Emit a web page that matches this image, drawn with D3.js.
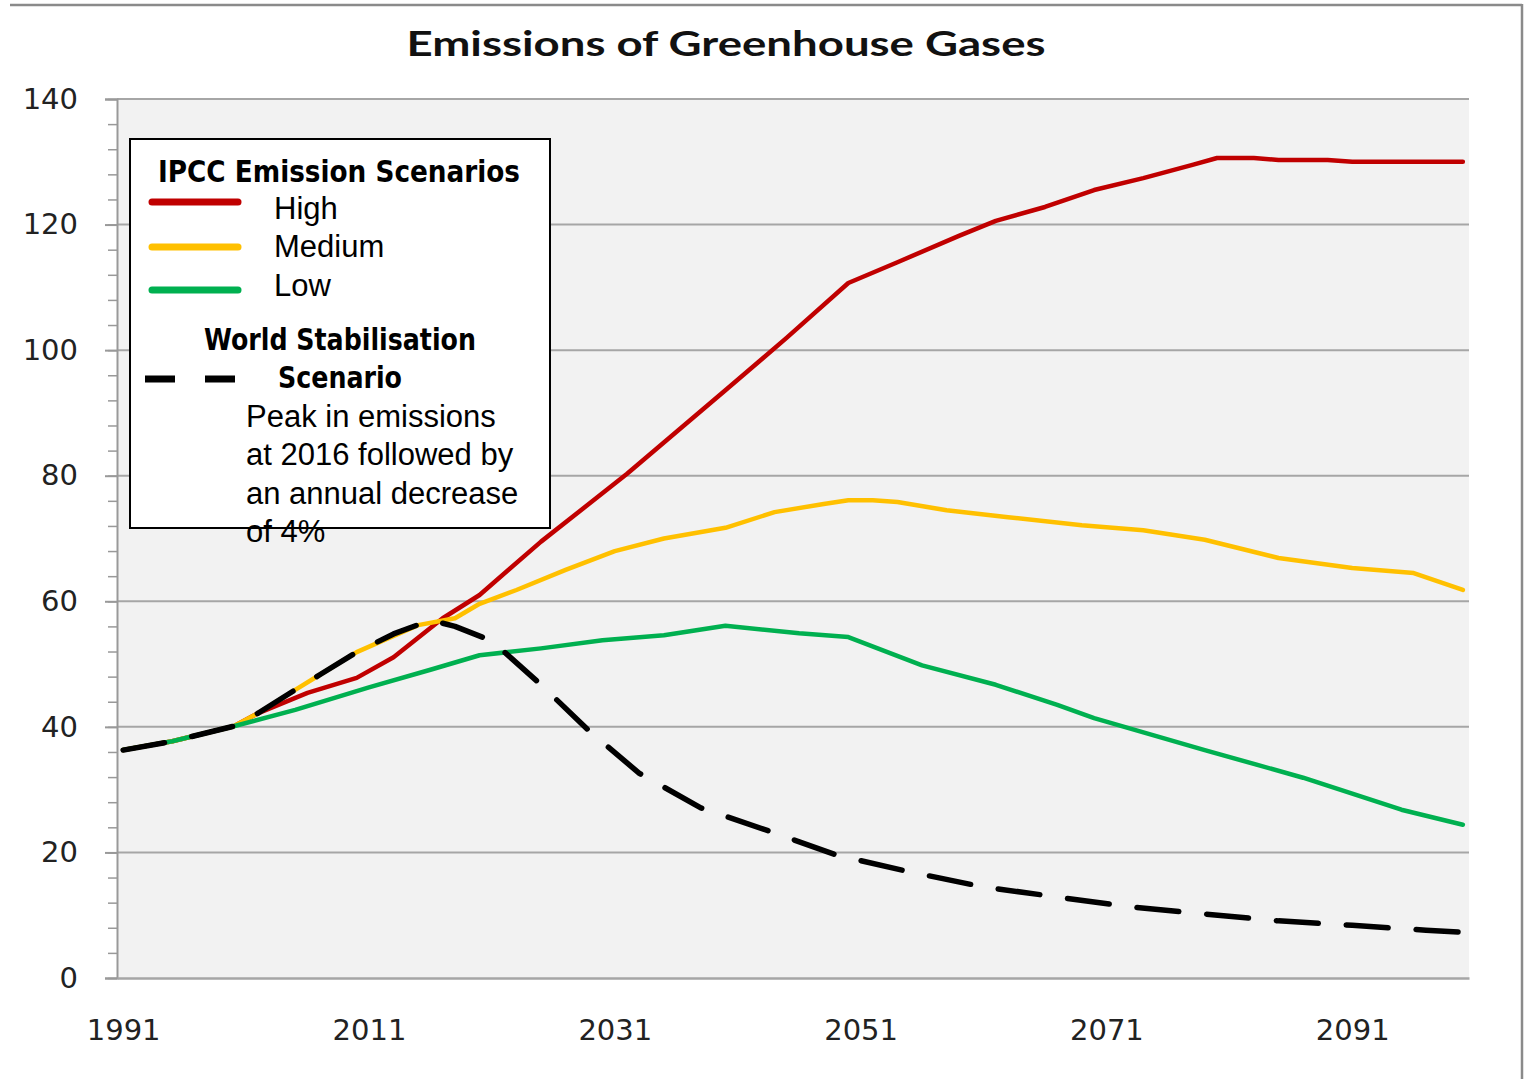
<!DOCTYPE html>
<html>
<head>
<meta charset="utf-8">
<script src="https://cdn.jsdelivr.net/npm/d3@7"></script>
<style>
  html, body { margin: 0; padding: 0; background: #fff; }
  svg { display: block; }
</style>
</head>
<body>
<div id="chart"></div>
<script>
// Emission values, [year, Gt] pairs
const high = [
  [1991, 36.3], [1995, 37.7], [2000, 40.1], [2002, 42.2], [2006, 45.4], [2010, 47.8],
  [2013, 51.1], [2017, 57.3], [2020, 61.0], [2025, 69.5], [2032, 80.3], [2040, 93.6],
  [2045, 102.0], [2050, 110.7], [2054, 114.0], [2059, 118.2], [2062, 120.6], [2066, 122.8],
  [2070, 125.5], [2074, 127.4], [2078, 129.5], [2080, 130.6], [2083, 130.6], [2085, 130.3],
  [2089, 130.3], [2091, 130.0], [2100, 130.0]
];
const medium = [
  [1991, 36.3], [1995, 37.7], [2000, 40.1], [2002, 42.2], [2005, 45.9], [2007, 48.3],
  [2010, 51.9], [2015, 56.2], [2018, 57.3], [2020, 59.6], [2023, 61.8], [2027, 65.0],
  [2031, 68.0], [2035, 70.0], [2040, 71.7], [2044, 74.2], [2048, 75.5], [2050, 76.1],
  [2052, 76.1], [2054, 75.8], [2058, 74.5], [2063, 73.4], [2069, 72.1], [2074, 71.3],
  [2079, 69.8], [2085, 66.9], [2091, 65.3], [2096, 64.5], [2100, 61.8]
];
const low = [
  [1991, 36.3], [1995, 37.7], [2000, 40.1], [2005, 42.7], [2011, 46.3], [2016, 49.1],
  [2020, 51.4], [2025, 52.5], [2030, 53.8], [2035, 54.6], [2040, 56.1], [2046, 54.9],
  [2050, 54.3], [2056, 49.8], [2062, 46.7], [2067, 43.5], [2070, 41.4], [2079, 36.3],
  [2087, 31.9], [2095, 26.8], [2100, 24.4]
];
const stabilisation = [
  [1991, 36.3], [1995, 37.7], [2000, 40.1], [2002, 42.2], [2005, 45.9], [2007, 48.3],
  [2010, 51.9], [2013, 54.8], [2016, 57.0], [2018, 56.0], [2021, 53.7], [2025, 46.7],
  [2029, 39.2], [2033, 32.6], [2038, 27.1], [2044, 23.1], [2049, 19.6], [2055, 16.9],
  [2061, 14.5], [2067, 12.9], [2073, 11.3], [2079, 10.2], [2085, 9.1], [2091, 8.4],
  [2097, 7.6], [2100, 7.3]
];
const xTickYears = [1991, 2011, 2031, 2051, 2071, 2091];
const yTicks = [0, 20, 40, 60, 80, 100, 120, 140];
const yMinorTicks = d3.range(0, 141, 4);

const seriesList = [
  { name: 'High', data: high, color: '#c00000' },
  { name: 'Medium', data: medium, color: '#ffc000' },
  { name: 'Low', data: low, color: '#00b050' },
  { name: 'Stabilisation', data: stabilisation, color: '#000000', dashed: true }
];

const W = 1526, H = 1079;
const plot = { left: 117, right: 1469, top: 99, bottom: 978 };

const svg = d3.select('#chart').append('svg')
  .attr('width', W)
  .attr('height', H);

// outer chart frame (top + right edges visible)
svg.append('line')
  .attr('x1', 10).attr('x2', 1522).attr('y1', 5).attr('y2', 5)
  .attr('stroke', '#8a8a8a').attr('stroke-width', 2.5);
svg.append('line')
  .attr('x1', 1522).attr('x2', 1522).attr('y1', 4).attr('y2', H)
  .attr('stroke', '#8a8a8a').attr('stroke-width', 2.5);

// title
svg.append('text')
  .attr('x', 726).attr('y', 56)
  .attr('text-anchor', 'middle')
  .attr('textLength', 639)
  .attr('lengthAdjust', 'spacingAndGlyphs')
  .style('font-family', 'Lato, "Open Sans", sans-serif')
  .style('font-weight', 'bold')
  .style('font-size', '34px')
  .style('fill', '#111')
  .text('Emissions of Greenhouse Gases');

// scales
const x = d3.scaleLinear().domain([1990.5, 2100.5]).range([plot.left, plot.right]);
const y = d3.scaleLinear().domain([0, 140]).range([plot.bottom, plot.top]);

// plot background
svg.append('rect')
  .attr('x', plot.left).attr('y', plot.top)
  .attr('width', plot.right - plot.left)
  .attr('height', plot.bottom - plot.top)
  .attr('fill', '#f2f2f2');

// gridlines
svg.append('g')
  .selectAll('line')
  .data(yTicks.filter(d => d > 0))
  .join('line')
  .attr('x1', plot.left).attr('x2', plot.right)
  .attr('y1', d => y(d)).attr('y2', d => y(d))
  .attr('stroke', '#a6a6a6').attr('stroke-width', 2);

// y axis: minor ticks
const yMinor = svg.append('g')
  .attr('transform', `translate(${plot.left},0)`)
  .call(d3.axisLeft(y).tickValues(yMinorTicks).tickSize(9).tickFormat(''));
yMinor.select('.domain').remove();
yMinor.selectAll('line').attr('stroke', '#999').attr('stroke-width', 1.5);

// y axis: major ticks + labels
const yAxis = svg.append('g')
  .attr('transform', `translate(${plot.left},0)`)
  .call(d3.axisLeft(y).tickValues(yTicks).tickSize(12).tickPadding(27));
yAxis.select('.domain').attr('stroke', '#999').attr('stroke-width', 2);
yAxis.selectAll('line').attr('stroke', '#999').attr('stroke-width', 2);
yAxis.selectAll('text')
  .style('font-family', '"DejaVu Sans", sans-serif')
  .style('font-size', '29px')
  .style('fill', '#222');

// x axis
const xAxis = svg.append('g')
  .attr('transform', `translate(0,${plot.bottom})`)
  .call(d3.axisBottom(x).tickValues(xTickYears).tickSize(0).tickPadding(41).tickFormat(d3.format('d')));
xAxis.select('.domain').attr('stroke', '#a6a6a6').attr('stroke-width', 2.5);
xAxis.selectAll('text')
  .style('font-family', '"DejaVu Sans", sans-serif')
  .style('font-size', '29px')
  .style('fill', '#222');

// series lines
const line = d3.line()
  .x(d => x(d[0]))
  .y(d => y(d[1]));

svg.append('g')
  .selectAll('path')
  .data(seriesList)
  .join('path')
  .attr('d', d => line(d.data))
  .attr('fill', 'none')
  .attr('stroke', d => d.color)
  .attr('stroke-width', d => d.dashed ? 5.5 : 4.5)
  .attr('stroke-linejoin', 'round')
  .attr('stroke-linecap', 'round')
  .attr('stroke-dasharray', d => d.dashed ? '42 28' : null);

// legend
const legend = svg.append('g');
legend.append('rect')
  .attr('x', 130).attr('y', 139)
  .attr('width', 420).attr('height', 389)
  .attr('fill', '#fff')
  .attr('stroke', '#000')
  .attr('stroke-width', 2);

const boldFont = '"DejaVu Sans Condensed", "DejaVu Sans", sans-serif';
const plainFont = '"Liberation Sans", Arial, sans-serif';

legend.append('text')
  .attr('x', 339).attr('y', 182)
  .attr('text-anchor', 'middle')
  .attr('textLength', 362)
  .attr('lengthAdjust', 'spacingAndGlyphs')
  .style('font-family', boldFont)
  .style('font-weight', 'bold')
  .style('font-size', '31px')
  .text('IPCC Emission Scenarios');

const legendItems = [
  { label: 'High', color: '#c00000', ly: 202, ty: 219 },
  { label: 'Medium', color: '#ffc000', ly: 247, ty: 257 },
  { label: 'Low', color: '#00b050', ly: 290, ty: 296 }
];
legendItems.forEach(it => {
  legend.append('line')
    .attr('x1', 152).attr('x2', 238)
    .attr('y1', it.ly).attr('y2', it.ly)
    .attr('stroke', it.color)
    .attr('stroke-width', 7)
    .attr('stroke-linecap', 'round');
  legend.append('text')
    .attr('x', 274).attr('y', it.ty)
    .style('font-family', plainFont)
    .style('font-size', '31px')
    .text(it.label);
});

legend.append('text')
  .attr('x', 340).attr('y', 350)
  .attr('text-anchor', 'middle')
  .attr('textLength', 272)
  .attr('lengthAdjust', 'spacingAndGlyphs')
  .style('font-family', boldFont)
  .style('font-weight', 'bold')
  .style('font-size', '31px')
  .text('World Stabilisation');

legend.append('line')
  .attr('x1', 145).attr('x2', 235)
  .attr('y1', 379).attr('y2', 379)
  .attr('stroke', '#000')
  .attr('stroke-width', 7)
  .attr('stroke-dasharray', '30 30');

legend.append('text')
  .attr('x', 340).attr('y', 388)
  .attr('text-anchor', 'middle')
  .attr('textLength', 124)
  .attr('lengthAdjust', 'spacingAndGlyphs')
  .style('font-family', boldFont)
  .style('font-weight', 'bold')
  .style('font-size', '31px')
  .text('Scenario');

const noteLines = ['Peak in emissions', 'at 2016 followed by', 'an annual decrease', 'of 4%'];
legend.selectAll('text.note')
  .data(noteLines)
  .join('text')
  .attr('class', 'note')
  .attr('x', 246)
  .attr('y', (d, i) => 427 + i * 38.3)
  .style('font-family', plainFont)
  .style('font-size', '31px')
  .text(d => d);
</script>
</body>
</html>
